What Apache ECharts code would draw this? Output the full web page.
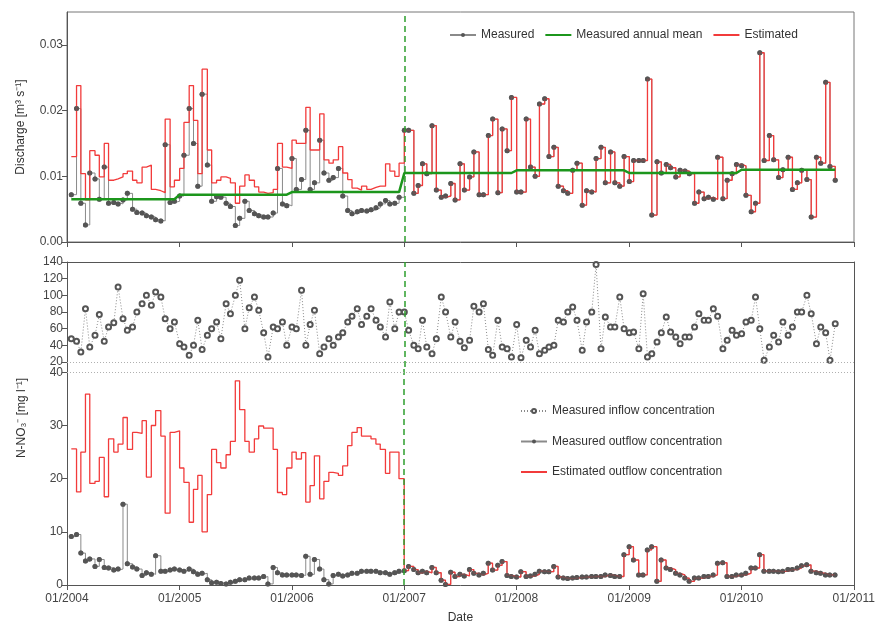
<!DOCTYPE html>
<html>
<head>
<meta charset="utf-8">
<script src="https://cdn.jsdelivr.net/npm/echarts@6/dist/echarts.min.js"></script>
<style>
html,body{margin:0;padding:0;background:#fff;}
#chart{width:878px;height:625px;}
</style>
</head>
<body>
<div id="chart"></div>
<script>
// ---- sampling dates (half-monthly, Jan 2004 – Nov 2010) ----
const firstDate = '2004-01-15';
const lastDate = '2010-11-01';
const splitDate = '2007-01-01';
const yearLabels = [2004, 2005, 2006, 2007, 2008, 2009, 2010, 2011];

// ---- Discharge [m3/s], measured ----
const qMeasured = [
  0.0072,0.0203,0.0059,0.0026,0.0105,0.0096,0.0065,0.0114,0.0059,0.0060,0.0058,0.0064,0.0074,0.0050,0.0045,0.0044,0.0040,0.0038,0.0034,0.0032,0.0148,0.0060,0.0062,
  0.0070,0.0132,0.0203,0.0150,0.0085,0.0225,0.0117,0.0062,0.0069,0.0068,0.0059,0.0054,0.0025,0.0036,0.0062,0.0048,0.0043,0.0040,0.0038,0.0038,0.0044,0.0112,0.0058,0.0055,
  0.0127,0.0080,0.0095,0.0170,0.0080,0.0090,0.0155,0.0105,0.0094,0.0098,0.0112,0.0070,0.0048,0.0043,0.0046,0.0048,0.0047,0.0049,0.0052,0.0058,0.0063,0.0058,0.0059,0.0068,
  0.0170,0.0170,0.0074,0.0086,0.0119,0.0104,0.0177,0.0079,0.0068,0.0070,0.0089,0.0064,0.0119,0.0079,0.0099,0.0137,0.0072,0.0072,0.0162,0.0187,0.0075,0.0172,0.0139,0.0220,
  0.0076,0.0076,0.0187,0.0114,0.0100,0.0210,0.0218,0.0130,0.0144,0.0085,0.0078,0.0074,0.0109,0.0120,0.0056,0.0078,0.0076,0.0127,0.0144,0.0090,0.0137,0.0090,0.0085,0.0130,
  0.0092,0.0124,0.0124,0.0124,0.0248,0.0041,0.0122,0.0105,0.0118,0.0113,0.0099,0.0109,0.0108,0.0104,0.0059,0.0076,0.0066,0.0068,0.0065,0.0129,0.0066,0.0094,0.0104,0.0118,
  0.0116,0.0071,0.0046,0.0059,0.0288,0.0124,0.0162,0.0125,0.0098,0.0110,0.0129,0.0080,0.0090,0.0109,0.0095,0.0038,0.0129,0.0120,0.0243,0.0115,0.0094
];
// ---- Discharge, estimated before 2007 (afterwards equal to measured) ----
const qEstimatedPre2007 = [
  0.0130,0.0238,0.0104,0.0064,0.0139,0.0132,0.0099,0.0150,0.0094,0.0096,0.0099,0.0104,0.0108,0.0094,0.0090,0.0114,0.0117,0.0080,0.0078,0.0075,0.0187,0.0084,0.0094,
  0.0112,0.0182,0.0238,0.0185,0.0104,0.0263,0.0140,0.0090,0.0094,0.0099,0.0097,0.0090,0.0059,0.0085,0.0102,0.0094,0.0084,0.0076,0.0074,0.0075,0.0080,0.0150,0.0114,0.0112,
  0.0155,0.0150,0.0150,0.0205,0.0140,0.0140,0.0195,0.0125,0.0120,0.0125,0.0145,0.0105,0.0095,0.0082,0.0079,0.0085,0.0080,0.0083,0.0085,0.0085,0.0119,0.0108,0.0100,0.0120
];
// ---- Measured annual mean discharge ----
const meanYears = [2004, 2005, 2006, 2007, 2008, 2009, 2010];
const meanDischarge = [0.0065, 0.0072, 0.0076, 0.0105, 0.0109, 0.0105, 0.0110];

// ---- N-NO3 inflow concentration [mg/l] ----
const inflowConc = [
  48,45,32,84,38,52,77,45,62,67,110,72,58,62,80,90,100,88,104,98,72,60,68,
  42,38,28,40,70,35,52,60,68,48,90,78,100,118,60,85,98,82,55,26,62,60,68,40,
  62,60,106,40,65,82,30,38,48,40,50,55,68,75,84,65,75,84,70,62,50,92,60,80,
  80,58,40,36,70,38,30,48,98,80,50,68,45,37,46,87,80,90,35,28,70,38,36,26,
  65,25,46,38,58,30,34,38,40,70,68,80,86,70,34,68,80,137,36,74,62,62,98,60,
  55,56,36,102,26,30,44,55,74,56,50,42,50,50,62,78,70,70,84,75,36,46,58,52,
  54,68,70,98,60,22,38,52,44,68,52,62,80,80,100,78,42,62,55,22,66
];
// ---- N-NO3 outflow concentration, measured ----
const outflowConc = [
  9.1,9.5,6.0,4.5,4.9,3.5,4.8,3.3,3.2,2.8,3.0,15.2,4.0,3.4,3.0,1.8,2.3,2.0,5.5,2.6,2.6,2.8,3.0,
  2.8,2.6,3.0,2.5,2.0,2.2,1.0,0.4,0.5,0.3,0.2,0.5,0.7,1.0,1.0,1.3,1.3,1.3,1.6,0.2,3.3,2.3,1.9,1.9,
  1.9,1.9,1.8,5.4,2.0,4.8,3.0,1.0,0.2,1.8,2.0,1.7,1.9,2.2,2.2,2.6,2.6,2.6,2.6,2.3,2.3,2.0,2.3,2.6,
  2.7,3.5,2.9,2.3,2.6,2.3,3.3,2.3,0.9,0.1,2.4,1.6,2.0,1.7,2.9,2.2,1.9,2.2,4.1,2.8,3.7,4.4,1.8,1.6,
  1.5,2.5,1.6,1.7,2.0,2.6,2.5,2.5,3.5,1.5,1.3,1.2,1.3,1.4,1.5,1.5,1.6,1.6,1.6,1.9,1.8,1.6,1.6,5.7,
  7.2,4.7,1.9,1.9,6.6,7.2,0.7,4.7,3.2,2.9,2.2,1.9,1.3,0.7,1.3,1.3,1.6,1.6,1.9,4.1,4.2,1.6,1.6,1.9,
  1.9,2.2,3.2,3.2,5.7,2.6,2.6,2.6,2.5,2.6,2.9,2.9,3.2,3.6,3.8,2.6,2.3,2.2,1.9,1.9,1.9
];
// ---- N-NO3 outflow concentration, estimated before 2007 ----
const outflowEstPre2007 = [
  25.6,17.5,25.0,35.9,19.1,19.5,24.0,16.6,27.5,25.0,26.5,31.5,25.5,28.7,28.5,30.9,20.3,30.0,32.8,28.0,13.5,28.7,29.0,
  22.0,19.3,11.8,18.0,20.6,10.0,17.0,25.5,23.0,22.0,24.5,27.0,38.4,33.0,27.0,25.0,27.5,29.9,29.5,29.5,25.5,17.4,17.0,22.0,
  25.0,23.7,24.9,15.6,18.7,24.3,16.2,19.5,21.2,21.0,20.6,22.4,26.2,28.7,29.6,28.0,28.0,27.5,26.5,25.5,21.0,25.0,25.0,20.0
];

// ---------------------------------------------------------------
const toTime = (s) => { const p = s.split('-').map(Number); return new Date(p[0], p[1] - 1, p[2]).getTime(); };
const dates = [];
for (let y = 2004; y <= 2010; y++) {
  for (let m = 1; m <= 12; m++) {
    for (const d of [1, 15]) {
      const s = y + '-' + String(m).padStart(2, '0') + '-' + String(d).padStart(2, '0');
      if (s >= firstDate && s <= lastDate) dates.push(s);
    }
  }
}
const times = dates.map(toTime);
const nPre = qEstimatedPre2007.length;
const qEstimated = qEstimatedPre2007.concat(qMeasured.slice(nPre));
const outflowEst = outflowEstPre2007.concat(outflowConc.slice(nPre));
const zip = (arr) => arr.map((v, i) => [times[i], v]);

const meanLine = [];
meanYears.forEach((yr, k) => {
  const idx = dates.map((d, i) => d.startsWith(String(yr)) ? i : -1).filter(i => i >= 0);
  meanLine.push([times[idx[0]], meanDischarge[k]]);
  meanLine.push([times[idx[idx.length - 1]], meanDischarge[k]]);
});

const yearTicks = yearLabels.map(y => new Date(y, 0, 1).getTime());
const splitTime = toTime(splitDate);
const FONT = "'Liberation Sans', Arial, Helvetica, sans-serif";
const AX = '#555';
const RED = '#f23b3b';
const GRAY_LINE = '#8a8a8a';
const DOT = '#555';
const GREEN = '#1c961c';
const GREEN_DASH = { color: '#2e9e2e', type: [6, 4], width: 1.5 };
const BREAK_LINE = { color: '#b0b0b0', type: [1, 2], width: 1 };

const xBase = (grid) => ({
  type: 'value', gridIndex: grid, min: yearTicks[0], max: yearTicks[yearTicks.length - 1],
  splitLine: { show: false },
  axisLine: { show: true, onZero: false, lineStyle: { color: AX, width: 1 } },
  axisTick: { show: true, customValues: yearTicks, length: 5, lineStyle: { color: AX } },
  axisLabel: { show: false }
});
const yBase = (grid, min, max, ticks, fmt) => ({
  type: 'value', gridIndex: grid, min: min, max: max,
  splitLine: { show: false },
  axisLine: { show: true, onZero: false, lineStyle: { color: AX, width: 1 } },
  axisTick: { show: true, customValues: ticks, length: 5, lineStyle: { color: AX } },
  axisLabel: { show: true, customValues: ticks, color: '#444', fontSize: 12, fontFamily: FONT, margin: 4, formatter: fmt }
});
const yRight = (grid, min, max) => ({
  type: 'value', gridIndex: grid, min: min, max: max, position: 'right',
  splitLine: { show: false },
  axisLine: { show: true, onZero: false, lineStyle: { color: AX, width: 1 } },
  axisTick: { show: false }, axisLabel: { show: false }
});
const noSym = { opacity: 0 };

const chart = echarts.init(document.getElementById('chart'), null, { renderer: 'canvas' });
const option = {
  animation: false,
  backgroundColor: '#fff',
  textStyle: { fontFamily: FONT },
  grid: [
    { left: 67, right: 24, top: 12, height: 230, show: true, borderColor: '#777', borderWidth: 1 },
    { left: 67, right: 24, top: 262, height: 105 },
    { left: 67, right: 24, top: 367, height: 220 }
  ],
  xAxis: [
    xBase(0),
    Object.assign(xBase(1), { position: 'top', axisTick: { show: false } }),
    Object.assign(xBase(2), {
      axisLabel: { show: true, customValues: yearTicks, color: '#444', fontSize: 12, fontFamily: FONT, margin: 8,
        formatter: v => '01/' + new Date(v).getFullYear() },
      name: 'Date', nameLocation: 'middle', nameGap: 27,
      nameTextStyle: { color: '#333', fontSize: 12, fontFamily: FONT }
    })
  ],
  yAxis: [
    Object.assign(yBase(0, 0, 0.035, [0, 0.01, 0.02, 0.03], v => v.toFixed(2)), {
      name: 'Discharge [m³ s⁻¹]', nameLocation: 'middle', nameGap: 40,
      nameTextStyle: { color: '#333', fontSize: 12, fontFamily: FONT }
    }),
    yBase(1, 14, 140, [20, 40, 60, 80, 100, 120, 140], v => String(v)),
    yBase(2, 0, 41, [0, 10, 20, 30, 40], v => String(v)),
    yRight(1, 14, 140),
    yRight(2, 0, 41)
  ],
  legend: [
    {
      data: ['Measured', { name: 'Measured annual mean', itemStyle: noSym }, { name: 'Estimated', itemStyle: noSym }],
      left: 444, top: 24, itemWidth: 26, itemHeight: 5, itemGap: 10,
      textStyle: { color: '#333', fontSize: 12, fontFamily: FONT }
    },
    {
      data: ['Measured inflow concentration', 'Measured outflow concentration',
             { name: 'Estimated outflow concentration', itemStyle: noSym }],
      orient: 'vertical', left: 515, top: 400, itemWidth: 26, itemHeight: 5, itemGap: 18.5,
      textStyle: { color: '#333', fontSize: 12, fontFamily: FONT }
    }
  ],
  graphic: [
    { type: 'text', x: 22, y: 418, rotation: Math.PI / 2,
      style: { text: 'N-NO₃⁻ [mg l⁻¹]', fill: '#333', font: '12px ' + FONT, align: 'center', verticalAlign: 'middle' } }
  ],
  series: [
    { name: 'Measured', type: 'line', step: 'end', xAxisIndex: 0, yAxisIndex: 0, data: zip(qMeasured),
      symbol: 'circle', symbolSize: 5, itemStyle: { color: DOT }, lineStyle: { color: GRAY_LINE, width: 1 },
      z: 1,
      markLine: { silent: true, symbol: ['none', 'none'], label: { show: false },
        data: [{ xAxis: splitTime, lineStyle: GREEN_DASH }] } },
    { name: 'Estimated', type: 'line', step: 'end', xAxisIndex: 0, yAxisIndex: 0, data: zip(qEstimated),
      symbol: 'none', itemStyle: { color: RED }, lineStyle: { color: RED, width: 1.3 }, z: 2 },
    { name: 'dotsQ', type: 'scatter', xAxisIndex: 0, yAxisIndex: 0, data: zip(qMeasured),
      symbolSize: 5, itemStyle: { color: DOT }, z: 3, silent: true },
    { name: 'Measured annual mean', type: 'line', xAxisIndex: 0, yAxisIndex: 0, data: meanLine,
      symbol: 'none', itemStyle: { color: GREEN }, lineStyle: { color: GREEN, width: 2.5 }, z: 4 },

    { name: 'Measured inflow concentration', type: 'line', xAxisIndex: 1, yAxisIndex: 1, data: zip(inflowConc),
      symbol: 'emptyCircle', symbolSize: 5, itemStyle: { color: '#555', borderWidth: 2 },
      lineStyle: { color: GRAY_LINE, width: 1, type: [1, 2] }, z: 2,
      markLine: { silent: true, symbol: ['none', 'none'], label: { show: false },
        data: [ { xAxis: splitTime, lineStyle: GREEN_DASH }, { yAxis: 20, lineStyle: BREAK_LINE } ] } },

    { name: 'Measured outflow concentration', type: 'line', step: 'end', xAxisIndex: 2, yAxisIndex: 2, data: zip(outflowConc),
      symbol: 'circle', symbolSize: 5, itemStyle: { color: DOT }, lineStyle: { color: GRAY_LINE, width: 1 }, z: 1,
      markLine: { silent: true, symbol: ['none', 'none'], label: { show: false },
        data: [ { xAxis: splitTime, lineStyle: GREEN_DASH }, { yAxis: 40, lineStyle: BREAK_LINE } ] } },
    { name: 'Estimated outflow concentration', type: 'line', step: 'end', xAxisIndex: 2, yAxisIndex: 2, data: zip(outflowEst),
      symbol: 'none', itemStyle: { color: RED }, lineStyle: { color: RED, width: 1.3 }, z: 2 },
    { name: 'dotsN', type: 'scatter', xAxisIndex: 2, yAxisIndex: 2, data: zip(outflowConc),
      symbolSize: 5, itemStyle: { color: DOT }, z: 3, silent: true }
  ]
};
chart.setOption(option);
</script>
</body>
</html>
